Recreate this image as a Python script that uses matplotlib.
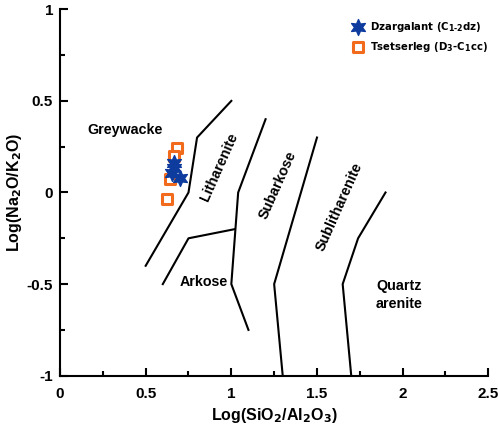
import matplotlib
matplotlib.use("Agg")
import matplotlib.pyplot as plt
from matplotlib.ticker import MultipleLocator
from matplotlib import font_manager

plt.rcParams['font.family'] = ['Liberation Sans', 'DejaVu Sans']
plt.rcParams['font.weight'] = 'bold'
plt.rcParams['mathtext.default'] = 'bf'

# sample data: log(SiO2/Al2O3), log(Na2O/K2O)
dz_x = [0.667, 0.663, 0.653, 0.702]
dz_y = [0.160, 0.133, 0.106, 0.078]
ts_x = [0.682, 0.663, 0.640, 0.624]
ts_y = [0.242, 0.200, 0.075, -0.035]

# field boundaries (Herron 1988)
bounds = [
    ([0.5, 0.75, 0.8, 1.0], [-0.4, 0.0, 0.3, 0.5]),
    ([0.6, 0.75, 1.02], [-0.5, -0.25, -0.2]),
    ([1.2, 1.04, 1.0, 1.1], [0.4, 0.0, -0.5, -0.75]),
    ([1.5, 1.25, 1.3], [0.3, -0.5, -1.0]),
    ([1.9, 1.74, 1.65, 1.7], [0.0, -0.25, -0.5, -1.0]),
]

field_names = ["Greywacke", "Litharenite", "Subarkose", "Sublitharenite", "Arkose", "Quartz\narenite"]
field_x = [0.38, 0.93, 1.27, 1.63, 0.84, 1.98]
field_y = [0.34, 0.14, 0.04, -0.08, -0.49, -0.56]
field_rot = [0, 66, 66, 66, 0, 0]

# condensed face for the legend if one is installed
condensed = [f for f in font_manager.fontManager.ttflist
             if f.name == 'DejaVu Sans' and f.stretch == 'condensed']
if condensed:
    leg_prop = {'family': 'DejaVu Sans', 'stretch': 'condensed', 'size': 8.1, 'weight': 'bold'}
else:
    leg_prop = {'family': 'Liberation Sans', 'size': 8.2, 'weight': 'bold'}

fig = plt.figure(figsize=(4.98, 4.32), dpi=100)
ax = fig.add_axes([0.1205, 0.1303, 0.86, 0.8482])

for bx, by in bounds:
    ax.plot(bx, by, color='black', lw=1.5, zorder=2)

for name, tx, ty, r in zip(field_names, field_x, field_y, field_rot):
    ax.text(tx, ty, name, rotation=r, ha='center', va='center',
            fontsize=10.3, fontweight='bold', linespacing=1.3)

ax.scatter(ts_x, ts_y, marker='s', s=55, facecolors='white',
           edgecolors='#F26B1D', linewidths=2.2, zorder=3,
           label='Tsetserleg (D$_3$-C$_1$cc)')
ax.scatter(dz_x, dz_y, marker=(6, 1, 0), s=130, color='#0D3B9E',
           zorder=4, label='Dzargalant (C$_{1\\text{-}2}$dz)')

h, l = ax.get_legend_handles_labels()
leg = ax.legend(h[::-1], l[::-1], loc='upper right', bbox_to_anchor=(1.015, 0.99),
                frameon=False, prop=leg_prop,
                handletextpad=0.5, borderaxespad=0.2, labelspacing=0.6, handlelength=1.2)

ax.set_xlim(0, 2.5)
ax.set_ylim(-1, 1)
ax.xaxis.set_minor_locator(MultipleLocator(0.25))
ax.yaxis.set_minor_locator(MultipleLocator(0.25))
ax.set_xticks([0, 0.5, 1, 1.5, 2, 2.5])
ax.set_xticklabels(['0', '0.5', '1', '1.5', '2', '2.5'])
ax.set_yticks([-1, -0.5, 0, 0.5, 1])
ax.set_yticklabels(['-1', '-0.5', '0', '0.5', '1'])
ax.tick_params(axis='x', which='major', pad=8)
ax.tick_params(axis='y', which='major', pad=5)
ax.tick_params(which='major', direction='in', length=6, width=1.5, labelsize=11)
ax.tick_params(which='minor', direction='in', length=3.5, width=1.5)
for s in ['top', 'right']:
    ax.spines[s].set_visible(False)
for s in ['left', 'bottom']:
    ax.spines[s].set_linewidth(1.5)

ax.set_xlabel('Log(SiO$_2$/Al$_2$O$_3$)', fontsize=11.5, fontweight='bold', labelpad=4)
ax.set_ylabel('Log(Na$_2$O/K$_2$O)', fontsize=11.5, fontweight='bold')
ax.yaxis.set_label_coords(-0.085, 0.5)

fig.savefig('out.png', dpi=100)
